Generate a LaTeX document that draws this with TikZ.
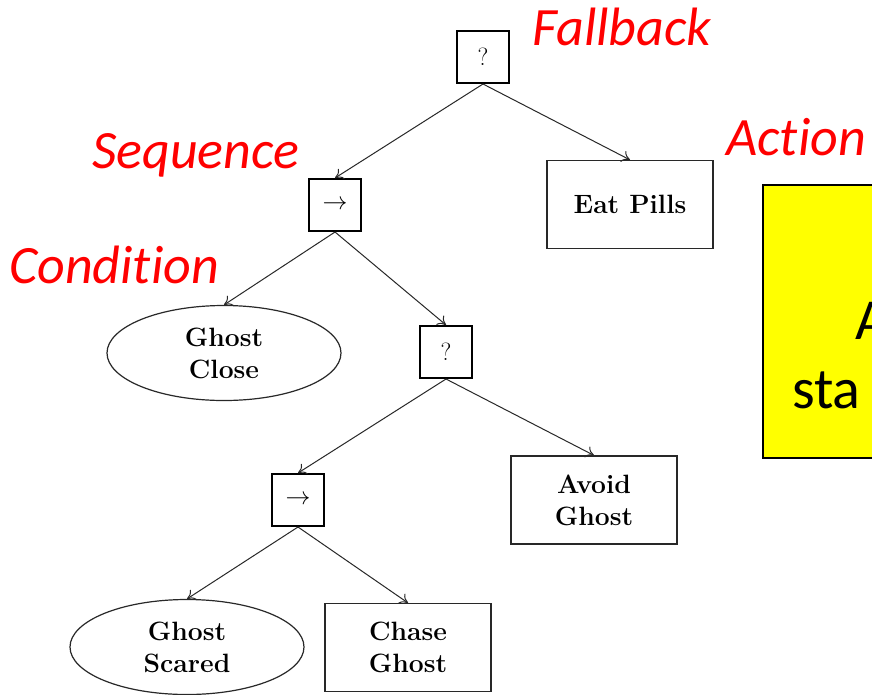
\documentclass[tikz,border=0pt]{standalone}
\usepackage{fontspec}
\newfontfamily\calib[Ligatures=NoCommon]{Carlito}
\usetikzlibrary{arrows.meta,shapes.geometric}
\definecolor{lblred}{RGB}{255,0,0}
\definecolor{edgegray}{RGB}{40,40,40}
\definecolor{noteyellow}{RGB}{255,255,0}
\tikzset{
  ctrl/.style={draw=black, line width=2pt, minimum size=52pt, inner sep=0pt,
    font=\fontsize{24}{28}\selectfont},
  actbox/.style={draw=edgegray, line width=1.2pt, minimum width=166pt, minimum height=88pt,
    inner sep=0pt, align=center, font=\fontsize{26.5}{32}\selectfont\bfseries},
  condell/.style={draw=edgegray, line width=1.2pt, ellipse, minimum width=234pt, minimum height=95pt,
    inner sep=0pt, align=center, font=\fontsize{26.5}{32}\selectfont\bfseries},
  edge/.style={draw=edgegray, line width=1pt, -{To[length=8pt,width=12pt]}},
  redlbl/.style={anchor=base west, inner sep=0pt, text=lblred,
    font=\calib\itshape\fontsize{54}{60}\selectfont},
  yeltxt/.style={anchor=base west, inner sep=0pt, text=black,
    font=\calib\fontsize{58}{70}\selectfont}
}
\begin{document}
\begin{tikzpicture}[x=1pt,y=-1pt]
\useasboundingbox (0,0) rectangle (872,694);
\clip (0,0) rectangle (872,694);
\fill[white] (0,0) rectangle (872,694);

% yellow note (cut off at right)
\node[draw=black, line width=1.5pt, fill=noteyellow, anchor=north west, minimum width=160pt,
  minimum height=273pt, inner sep=0pt] (note) at (762,184) {};
\node[yeltxt] (noteA) at (855,339) {A};
\node[yeltxt] (noteB) at (792,408) {sta};

% tree nodes
\node[ctrl] (fb1) at (483,57) {$?$};
\node[ctrl] (sq1) at (335,205) {$\rightarrow$};
\node[actbox] (eat) at (630,204.5) {Eat Pills};
\node[condell] (gclose) at (224,353) {Ghost\\Close};
\node[ctrl] (fb2) at (446,352) {$?$};
\node[ctrl] (sq2) at (298,500) {$\rightarrow$};
\node[actbox] (avoid) at (594,500) {Avoid\\Ghost};
\node[condell] (gscared) at (187,647) {Ghost\\Scared};
\node[actbox] (chase) at (408,647.5) {Chase\\Ghost};

% edges
\draw[edge] (fb1.south) -- (sq1.north);
\draw[edge] (fb1.south) -- (eat.north);
\draw[edge] (sq1.south) -- (gclose.north);
\draw[edge] (sq1.south) -- (fb2.north);
\draw[edge] (fb2.south) -- (sq2.north);
\draw[edge] (fb2.south) -- (avoid.north);
\draw[edge] (sq2.south) -- (gscared.north);
\draw[edge] (sq2.south) -- (chase.north);

% red labels
\node[redlbl] (lfb) at (532,45) {Fallback};
\node[redlbl] (lsq) at (92,168) {Sequence};
\node[redlbl] (lact) at (726,155) {Action};
\node[redlbl] (lcond) at (9,283) {Condition};
\end{tikzpicture}
\end{document}
